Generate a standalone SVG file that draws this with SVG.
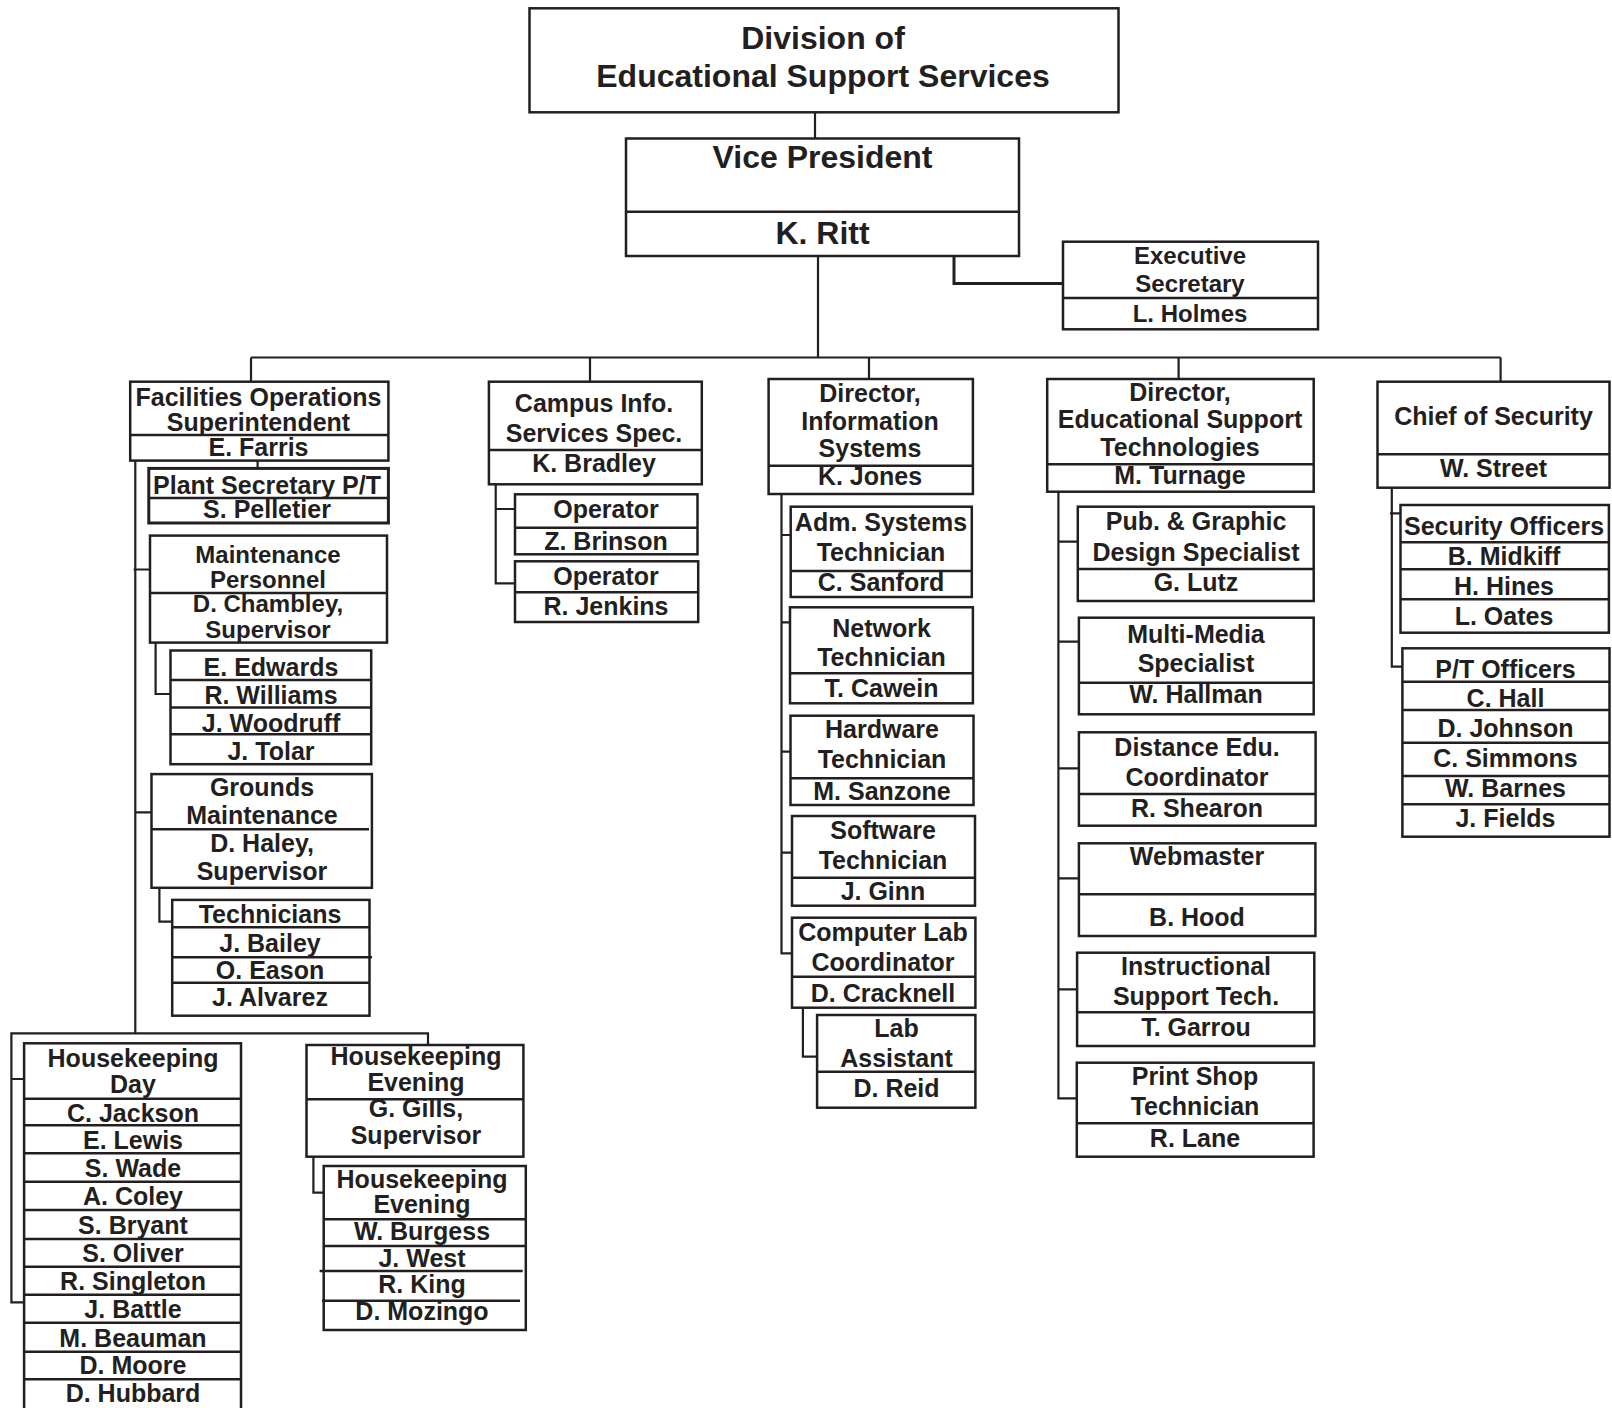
<svg xmlns="http://www.w3.org/2000/svg" width="1612" height="1408" viewBox="0 0 1612 1408">
<style>
.bg{fill:#ffffff}
.box{fill:#ffffff;stroke:#231f20;stroke-width:2.5}
.dv{stroke:#231f20;stroke-width:2.5;fill:none}
.conn{fill:none;stroke:#231f20;stroke-width:2.2}
text{font-family:"Liberation Sans",Arial,Helvetica,sans-serif;font-weight:bold;fill:#231f20;text-anchor:middle;font-size:25px}
.t32{font-size:32px}
.t24{font-size:24px}
</style>
<rect class="bg" x="0" y="0" width="1612" height="1408"/>
<g id="connectors">
<path class="conn" d="M815,112 V139"/>
<path class="conn" d="M818,256 V357.5"/>
<path class="conn" d="M251,357.5 H1500.6"/>
<path class="conn" d="M251,357.5 V382 M590,357.5 V382 M869,357.5 V379 M1178.6,357.5 V379 M1500.6,357.5 V382"/>
<path class="conn" style="stroke-width:3" d="M954,256 V283.5 H1063"/>
<path class="conn" d="M135.3,460.6 V1033.3 M133.6,569.5 H150 M135.3,812.3 H151.5"/>
<path class="conn" d="M257.6,460.6 V468.4"/>
<path class="conn" d="M155.6,642.7 V694 H170.5"/>
<path class="conn" d="M159.4,887.8 V921.6 H172.2"/>
<path class="conn" d="M24,1302.3 H11.4 V1033.3 H428 V1045 M11.4,1079 H24"/>
<path class="conn" d="M313.4,1156.7 V1192.7 H323.7"/>
<path class="conn" d="M495.7,484.3 V583.3 H515 M495.7,509 H515"/>
<path class="conn" d="M781.5,494 V953.3 H792 M781.5,535 H790.7 M781.5,622.3 H790 M781.5,751.7 H790.5 M781.5,852.7 H792"/>
<path class="conn" d="M802.9,1007.7 V1056.7 H817.1"/>
<path class="conn" d="M1058.4,491.7 V1098.3 H1076.8 M1058.4,541.7 H1077.8 M1058.4,641.7 H1078.9 M1058.4,768.3 H1078.9 M1058.4,878.3 H1078.9 M1058.4,989.3 H1077.1"/>
<path class="conn" d="M1391.8,487.7 V666.7 H1402.4 M1390,513.3 H1400.5"/>
</g>
<g id="division">
<rect class="box" x="529.5" y="8.3" width="589" height="104"/>
<text class="t32" x="823" y="49">Division of</text>
<text class="t32" x="823" y="87">Educational Support Services</text>
</g>
<g id="vice-president">
<rect class="box" x="626" y="138.5" width="393" height="117.5"/>
<line class="dv" x1="626" y1="211.7" x2="1019" y2="211.7"/>
<text class="t32" x="822.5" y="168">Vice President</text>
<text class="t32" x="822.5" y="244">K. Ritt</text>
</g>
<g id="exec-secretary">
<rect class="box" x="1063" y="241.7" width="255" height="87.6"/>
<line class="dv" x1="1063" y1="298" x2="1318" y2="298"/>
<text class="t24" x="1190" y="263.5">Executive</text>
<text class="t24" x="1190" y="291.5">Secretary</text>
<text class="t24" x="1190" y="321.5">L. Holmes</text>
</g>
<g id="facilities">
<rect class="box" x="130.2" y="381.7" width="258.2" height="78.9"/>
<line class="dv" x1="130.2" y1="435" x2="388.4" y2="435"/>
<text x="258.5" y="405.5">Facilities Operations</text>
<text x="258.5" y="431">Superintendent</text>
<text x="258.5" y="456">E. Farris</text>
</g>
<g id="plant-secretary">
<rect class="box" x="148.8" y="468.4" width="239.6" height="54.6" style="stroke-width:3"/>
<line class="dv" x1="148.8" y1="497.9" x2="388.4" y2="497.9"/>
<text x="267" y="493.5">Plant Secretary P/T</text>
<text x="267" y="518.3">S. Pelletier</text>
</g>
<g id="maintenance">
<rect class="box" x="150" y="535.6" width="237" height="107"/>
<line class="dv" x1="150" y1="592.9" x2="387" y2="592.9"/>
<text class="t24" x="268" y="562.5">Maintenance</text>
<text class="t24" x="268" y="588">Personnel</text>
<text class="t24" x="268" y="611.5">D. Chambley,</text>
<text class="t24" x="268" y="638">Supervisor</text>
</g>
<g id="maintenance-staff">
<rect class="box" x="170.5" y="650.5" width="200.7" height="113.7"/>
<line class="dv" x1="170.5" y1="680" x2="371.2" y2="680"/>
<line class="dv" x1="170.5" y1="707.4" x2="371.2" y2="707.4"/>
<line class="dv" x1="170.5" y1="734.2" x2="371.2" y2="734.2"/>
<text x="271" y="675.7">E. Edwards</text>
<text x="271" y="703.9">R. Williams</text>
<text x="271" y="731.6">J. Woodruff</text>
<text x="271" y="759.8">J. Tolar</text>
</g>
<g id="grounds">
<rect class="box" x="151.5" y="774.1" width="220.4" height="113.7"/>
<line class="dv" x1="151.5" y1="829.2" x2="369" y2="829.2"/>
<text x="262" y="795.8">Grounds</text>
<text x="262" y="824">Maintenance</text>
<text x="262" y="852.2">D. Haley,</text>
<text x="262" y="879.5">Supervisor</text>
</g>
<g id="technicians">
<rect class="box" x="172.2" y="899.9" width="197.3" height="115.8"/>
<line class="dv" x1="172.2" y1="927.2" x2="369.5" y2="927.2"/>
<line class="dv" x1="172.2" y1="957.2" x2="372" y2="957.2"/>
<line class="dv" x1="172.2" y1="982.7" x2="369.5" y2="982.7"/>
<text x="270" y="922.9">Technicians</text>
<text x="270" y="952">J. Bailey</text>
<text x="270" y="979.3">O. Eason</text>
<text x="270" y="1006.1">J. Alvarez</text>
</g>
<g id="housekeeping-day">
<rect class="box" x="24.1" y="1043.3" width="216.9" height="370"/>
<path class="dv" d="M24.1,1098.7 H241 M24.1,1125.3 H241 M24.1,1153.3 H241 M24.1,1181.7 H241 M24.1,1210 H241 M24.1,1239 H241 M24.1,1266.7 H241 M24.1,1294.7 H241 M24.1,1322.7 H241 M24.1,1351.7 H241 M24.1,1379.3 H241"/>
<text x="133" y="1066.7">Housekeeping</text>
<text x="133" y="1093.3">Day</text>
<text x="133" y="1121.7">C. Jackson</text>
<text x="133" y="1149">E. Lewis</text>
<text x="133" y="1177.3">S. Wade</text>
<text x="133" y="1205">A. Coley</text>
<text x="133" y="1234">S. Bryant</text>
<text x="133" y="1261.7">S. Oliver</text>
<text x="133" y="1290">R. Singleton</text>
<text x="133" y="1318.3">J. Battle</text>
<text x="133" y="1346.7">M. Beauman</text>
<text x="133" y="1374">D. Moore</text>
<text x="133" y="1401.7">D. Hubbard</text>
</g>
<g id="housekeeping-evening">
<rect class="box" x="306.5" y="1045" width="216.9" height="111.7"/>
<line class="dv" x1="306.5" y1="1099.3" x2="523.4" y2="1099.3"/>
<text x="416" y="1065">Housekeeping</text>
<text x="416" y="1090.7">Evening</text>
<text x="416" y="1117.3">G. Gills,</text>
<text x="416" y="1144">Supervisor</text>
</g>
<g id="housekeeping-evening-staff">
<rect class="box" x="323.7" y="1166" width="202.1" height="164"/>
<path class="dv" d="M323.7,1219.3 H525.8 M323.7,1246 H525.8 M319.6,1271 H522.7 M322,1300.7 H520"/>
<text x="422" y="1188.3">Housekeeping</text>
<text x="422" y="1213.3">Evening</text>
<text x="422" y="1240">W. Burgess</text>
<text x="422" y="1266.7">J. West</text>
<text x="422" y="1293.3">R. King</text>
<text x="422" y="1320">D. Mozingo</text>
</g>
<g id="campus-info">
<rect class="box" x="488.9" y="381.7" width="212.9" height="102.6"/>
<line class="dv" x1="488.9" y1="450" x2="701.8" y2="450"/>
<text x="594" y="411.7">Campus Info.</text>
<text x="594" y="441.7">Services Spec.</text>
<text x="594" y="471.7">K. Bradley</text>
</g>
<g id="operator-brinson">
<rect class="box" x="515" y="494.3" width="182.5" height="60"/>
<line class="dv" x1="515" y1="527.7" x2="697.5" y2="527.7"/>
<text x="606" y="518.3">Operator</text>
<text x="606" y="550">Z. Brinson</text>
</g>
<g id="operator-jenkins">
<rect class="box" x="515" y="561.3" width="183.2" height="60.7"/>
<line class="dv" x1="515" y1="592.3" x2="698.2" y2="592.3"/>
<text x="606" y="585">Operator</text>
<text x="606" y="615">R. Jenkins</text>
</g>
<g id="director-is">
<rect class="box" x="768.6" y="379" width="204.3" height="115"/>
<line class="dv" x1="768.6" y1="465.7" x2="972.9" y2="465.7"/>
<text x="870" y="401.7">Director,</text>
<text x="870" y="430">Information</text>
<text x="870" y="457.3">Systems</text>
<text x="870" y="485">K. Jones</text>
</g>
<g id="adm-systems">
<rect class="box" x="790.7" y="506.7" width="181.1" height="90.3"/>
<line class="dv" x1="790.7" y1="571" x2="971.8" y2="571"/>
<text x="881" y="530.7">Adm. Systems</text>
<text x="881" y="561">Technician</text>
<text x="881" y="591">C. Sanford</text>
</g>
<g id="network">
<rect class="box" x="790" y="607.3" width="182.9" height="96"/>
<line class="dv" x1="790" y1="673.3" x2="972.9" y2="673.3"/>
<text x="881.5" y="636.7">Network</text>
<text x="881.5" y="666">Technician</text>
<text x="881.5" y="697.3">T. Cawein</text>
</g>
<g id="hardware">
<rect class="box" x="790.5" y="715.7" width="183" height="89.3"/>
<line class="dv" x1="790.5" y1="778.3" x2="973.5" y2="778.3"/>
<text x="882" y="738.3">Hardware</text>
<text x="882" y="768.3">Technician</text>
<text x="882" y="800">M. Sanzone</text>
</g>
<g id="software">
<rect class="box" x="792" y="816" width="183" height="89.7"/>
<line class="dv" x1="792" y1="877.7" x2="975" y2="877.7"/>
<text x="883" y="839.3">Software</text>
<text x="883" y="869.3">Technician</text>
<text x="883" y="900">J. Ginn</text>
</g>
<g id="computer-lab">
<rect class="box" x="792" y="917.7" width="183.4" height="90"/>
<line class="dv" x1="792" y1="976.7" x2="975.4" y2="976.7"/>
<text x="883" y="941">Computer Lab</text>
<text x="883" y="971">Coordinator</text>
<text x="883" y="1001.7">D. Cracknell</text>
</g>
<g id="lab-assistant">
<rect class="box" x="817.1" y="1015" width="158.3" height="92.7"/>
<line class="dv" x1="817.1" y1="1071.7" x2="975.4" y2="1071.7"/>
<text x="896.5" y="1036.7">Lab</text>
<text x="896.5" y="1067.3">Assistant</text>
<text x="896.5" y="1097.3">D. Reid</text>
</g>
<g id="director-est">
<rect class="box" x="1047.2" y="379" width="266.5" height="112.7"/>
<line class="dv" x1="1047.2" y1="464.3" x2="1313.7" y2="464.3"/>
<text x="1180" y="400.7">Director,</text>
<text x="1180" y="428.3">Educational Support</text>
<text x="1180" y="456">Technologies</text>
<text x="1180" y="484">M. Turnage</text>
</g>
<g id="pub-graphic">
<rect class="box" x="1077.8" y="506.7" width="235.9" height="94.3"/>
<line class="dv" x1="1077.8" y1="569" x2="1313.7" y2="569"/>
<text x="1196" y="530">Pub. &amp; Graphic</text>
<text x="1196" y="560.7">Design Specialist</text>
<text x="1196" y="590.7">G. Lutz</text>
</g>
<g id="multi-media">
<rect class="box" x="1078.9" y="617.7" width="234.8" height="96.6"/>
<line class="dv" x1="1078.9" y1="682.7" x2="1313.7" y2="682.7"/>
<text x="1196" y="642.7">Multi-Media</text>
<text x="1196" y="671.7">Specialist</text>
<text x="1196" y="703.3">W. Hallman</text>
</g>
<g id="distance-edu">
<rect class="box" x="1078.9" y="732.3" width="236.7" height="93.4"/>
<line class="dv" x1="1078.9" y1="794" x2="1315.6" y2="794"/>
<text x="1197" y="756">Distance Edu.</text>
<text x="1197" y="786">Coordinator</text>
<text x="1197" y="817.3">R. Shearon</text>
</g>
<g id="webmaster">
<rect class="box" x="1078.9" y="843.3" width="236.5" height="92.7"/>
<line class="dv" x1="1078.9" y1="894.3" x2="1315.4" y2="894.3"/>
<text x="1197" y="865">Webmaster</text>
<text x="1197" y="925.7">B. Hood</text>
</g>
<g id="instructional">
<rect class="box" x="1077.1" y="952.7" width="237.2" height="93.3"/>
<line class="dv" x1="1077.1" y1="1012.3" x2="1314.3" y2="1012.3"/>
<text x="1196" y="975">Instructional</text>
<text x="1196" y="1005">Support Tech.</text>
<text x="1196" y="1036">T. Garrou</text>
</g>
<g id="print-shop">
<rect class="box" x="1076.8" y="1062.7" width="236.8" height="94"/>
<line class="dv" x1="1076.8" y1="1123.3" x2="1313.6" y2="1123.3"/>
<text x="1195" y="1085">Print Shop</text>
<text x="1195" y="1115">Technician</text>
<text x="1195" y="1146.7">R. Lane</text>
</g>
<g id="chief-security">
<rect class="box" x="1377.5" y="381.7" width="232" height="106"/>
<line class="dv" x1="1377.5" y1="454.3" x2="1609.5" y2="454.3"/>
<text x="1493.5" y="425">Chief of Security</text>
<text x="1493.5" y="476.7">W. Street</text>
</g>
<g id="security-officers">
<rect class="box" x="1400.5" y="505" width="208.4" height="127.7"/>
<path class="dv" d="M1400.5,542.3 H1608.9 M1400.5,569.3 H1608.9 M1400.5,599.3 H1608.9"/>
<text x="1504" y="535">Security Officers</text>
<text x="1504" y="565">B. Midkiff</text>
<text x="1504" y="595">H. Hines</text>
<text x="1504" y="625">L. Oates</text>
</g>
<g id="pt-officers">
<rect class="box" x="1402.4" y="648.3" width="207.1" height="188.4"/>
<path class="dv" d="M1402.4,681.7 H1609.5 M1402.4,710 H1609.5 M1402.4,742.7 H1609.5 M1402.4,776 H1609.5 M1402.4,804.3 H1609.5"/>
<text x="1505.5" y="678.3">P/T Officers</text>
<text x="1505.5" y="706.7">C. Hall</text>
<text x="1505.5" y="737.3">D. Johnson</text>
<text x="1505.5" y="766.7">C. Simmons</text>
<text x="1505.5" y="796.7">W. Barnes</text>
<text x="1505.5" y="826.7">J. Fields</text>
</g>
</svg>
